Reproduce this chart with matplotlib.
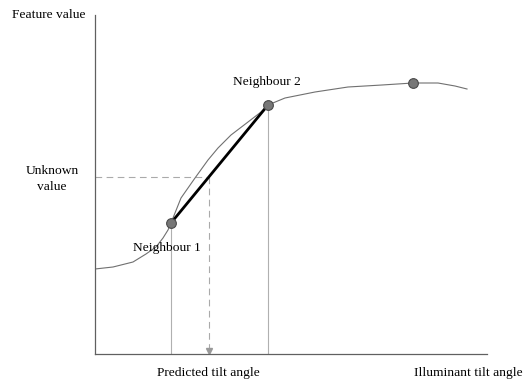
import matplotlib
matplotlib.use('Agg')
import matplotlib.pyplot as plt
import numpy as np

plt.rcParams['font.family'] = ['Liberation Serif', 'DejaVu Serif']

# feature curve against illuminant tilt angle (arbitrary units)
curve_x = [0, 18, 38, 51, 61, 68, 73, 76, 86, 100, 113, 123, 136, 153,
           166, 173, 190, 220, 253, 287, 318, 343, 360, 372]
curve_y = [85, 87, 92, 100, 107, 116, 124, 131, 156, 176, 194, 206, 219, 232,
           242, 249, 256, 262, 267, 269, 271, 271, 268, 265]

# sampled neighbours and a third sample on the curve
nb1 = (76, 131)
nb2 = (173, 249)
far_pt = (318, 271)
unknown_value = 177

# linear interpolation between the two neighbours
pred_x = nb1[0] + (unknown_value - nb1[1]) * (nb2[0] - nb1[0]) / (nb2[1] - nb1[1])

fig = plt.figure(figsize=(5.23, 3.80), dpi=100)
ax = fig.add_axes([95 / 523, 26 / 380, 392 / 523, 339 / 380])
ax.set_xlim(0, 392)
ax.set_ylim(0, 339)

for s in ['top', 'right']:
    ax.spines[s].set_visible(False)
for s in ['left', 'bottom']:
    ax.spines[s].set_color('#606060')
    ax.spines[s].set_linewidth(0.9)
ax.set_xticks([])
ax.set_yticks([])

ax.plot(curve_x, curve_y, color='#707070', lw=0.8, zorder=2,
        solid_joinstyle='round')

# guide lines down to the x axis
ax.plot([nb1[0], nb1[0]], [0, nb1[1]], color='#b0b0b0', lw=0.8, zorder=1)
ax.plot([nb2[0], nb2[0]], [0, nb2[1]], color='#b0b0b0', lw=0.8, zorder=1)
ax.plot([0, pred_x], [unknown_value, unknown_value], color='#aaaaaa', lw=0.8,
        ls=(0, (6, 4)), zorder=1)
ax.plot([pred_x, pred_x], [unknown_value, 3], color='#aaaaaa', lw=0.8,
        ls=(0, (6, 4)), zorder=1)
ax.plot([pred_x], [3], marker='v', ms=4, color='#999999', zorder=1,
        clip_on=False)

ax.plot([nb1[0], nb2[0]], [nb1[1], nb2[1]], color='black', lw=2, zorder=3)

px = [nb1[0], nb2[0], far_pt[0]]
py = [nb1[1], nb2[1], far_pt[1]]
ax.plot(px, py, 'o', ms=7, mfc='#777777', mec='#4a4a4a', mew=0.8, zorder=4)

fs = 9.7
ax.text(-10, 339, 'Feature value', ha='right', va='center', fontsize=fs)
ax.text(-43, unknown_value - 2, 'Unknown\nvalue', ha='center', va='center',
        fontsize=fs, linespacing=1.35)
ax.text(nb1[0] - 4, nb1[1] - 25, 'Neighbour 1', ha='center', va='center',
        fontsize=fs)
ax.text(nb2[0] - 1, nb2[1] + 23, 'Neighbour 2', ha='center', va='center',
        fontsize=fs)
ax.text(pred_x, -19, 'Predicted tilt angle', ha='center', va='center',
        fontsize=fs)
ax.text(373, -19, 'Illuminant tilt angle', ha='center', va='center',
        fontsize=fs)

fig.savefig('out.png', dpi=100)
